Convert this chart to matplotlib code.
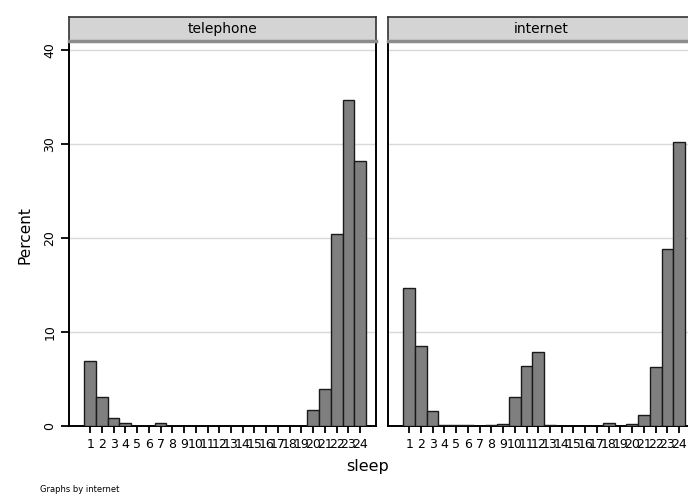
import matplotlib
matplotlib.use("Agg")
import matplotlib.pyplot as plt
import numpy as np

# ---- data ----
sleep_values = list(range(1, 25))
tick_labels = [str(v) for v in sleep_values]
panel_titles = ["telephone", "internet"]
telephone_pct = [6.93, 3.09, 0.85, 0.3, 0.0, 0.0, 0.3, 0.0, 0.0, 0.0, 0.0, 0.0,
                 0.0, 0.0, 0.0, 0.0, 0.0, 0.0, 0.0, 1.7, 3.94, 20.4, 34.75, 28.2]
internet_pct = [14.7, 8.5, 1.6, 0.15, 0.15, 0.15, 0.0, 0.15, 0.25, 3.1, 6.4, 7.9,
                0.15, 0.0, 0.0, 0.0, 0.0, 0.3, 0.0, 0.2, 1.17, 6.3, 18.9, 30.2]
y_ticks = [0, 10, 20, 30, 40]
y_label = "Percent"
x_label = "sleep"
note = "Graphs by internet"

plt.rcParams['font.family'] = ['DejaVu Sans']

W, H = 688, 496
fig = plt.figure(figsize=(W / 100, H / 100), dpi=100)
fig.patch.set_facecolor('white')

def fx(px):
    return px / W

def fy(py):
    return 1 - py / H

panel_left = [69, 388]
panel_w = 307
top_px, base_px = 41, 426
strip_top = 17

series = [telephone_pct, internet_pct]
for i, (pl, vals, title) in enumerate(zip(panel_left, series, panel_titles)):
    ax = fig.add_axes([fx(pl), fy(base_px), fx(panel_w), (base_px - top_px) / H])
    ax.bar(sleep_values, vals, width=1.0, color='#7f7f7f', edgecolor='#1a1a1a',
           linewidth=1.0, zorder=3)
    ax.set_xlim(-0.8, 25.35)
    ax.set_ylim(0, 41.0)
    ax.set_yticks(y_ticks)
    ax.set_xticks(sleep_values)
    ax.set_xticklabels(tick_labels, fontsize=9)
    ax.yaxis.grid(True, color='#d9d9d9', linewidth=1.0)
    ax.set_axisbelow(True)
    for s in ['left', 'right', 'bottom']:
        ax.spines[s].set_color('black')
        ax.spines[s].set_linewidth(1.4)
    ax.spines['top'].set_visible(False)
    ax.tick_params(axis='x', direction='out', length=5, width=1.3, pad=4, colors='black')
    if i == 0:
        ax.set_yticklabels([str(t) for t in y_ticks], rotation=90, va='center', fontsize=9)
        ax.tick_params(axis='y', direction='out', length=6, width=1.3, pad=3)
    else:
        ax.tick_params(axis='y', left=False, labelleft=False)

    sax = fig.add_axes([fx(pl), fy(top_px), fx(panel_w), (top_px - strip_top) / H])
    sax.set_facecolor('#d4d4d4')
    sax.set_xticks([])
    sax.set_yticks([])
    for s in ['left', 'right', 'top']:
        sax.spines[s].set_color('#333333')
        sax.spines[s].set_linewidth(1.2)
    sax.spines['bottom'].set_color('#8c8c8c')
    sax.spines['bottom'].set_linewidth(2.5)
    sax.text(0.5, 0.5, title, ha='center', va='center', fontsize=10, transform=sax.transAxes)

fig.text(fx(25), fy(235), y_label, rotation=90, ha='center', va='center', fontsize=11)
fig.text(fx(368), fy(467), x_label, ha='center', va='center', fontsize=11.5)
fig.text(fx(40), fy(489), note, ha='left', va='center', fontsize=6)

fig.savefig('out.png', dpi=100)
